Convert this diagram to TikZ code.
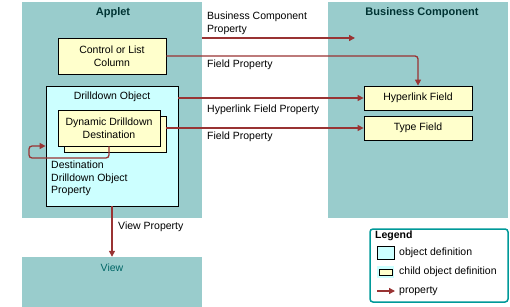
\documentclass[tikz,border=0pt]{standalone}
\usepackage{fontspec}
\setmainfont{Liberation Sans}
\usetikzlibrary{positioning,calc,arrows.meta}
\definecolor{panelteal}{HTML}{99CCCC}
\definecolor{objcyan}{HTML}{CCFFFF}
\definecolor{childyellow}{HTML}{FFFFCC}
\definecolor{propred}{HTML}{993333}
\definecolor{legendteal}{HTML}{009999}
\definecolor{titleink}{HTML}{003333}
\definecolor{viewink}{HTML}{006666}
\newcommand{\diagfont}{\fontsize{10.5}{12.5}\selectfont}

\begin{document}
\begin{tikzpicture}[x=1pt,y=-1pt,
    panel/.style={rectangle,fill=panelteal,inner sep=0pt},
    objbox/.style={rectangle,draw,line width=0.8pt,fill=objcyan,inner sep=0pt},
    childbox/.style={rectangle,draw,line width=0.8pt,fill=childyellow,inner sep=0pt,align=center,font=\diagfont},
    title/.style={font=\fontsize{11}{13}\selectfont\bfseries,text=titleink},
    lbl/.style={font=\diagfont,align=left,anchor=north west,inner sep=0pt},
    prop/.style={draw=propred,line width=1.3pt,-{Triangle[length=6pt,width=6pt]}}]

\useasboundingbox (0,0) rectangle (510,307);

% Panneaux
\node[panel,minimum width=180pt,minimum height=216pt] (applet) at (112,110) {};
\node[panel,minimum width=180pt,minimum height=216pt] (buscomp) at (418,110) {};
\node[panel,minimum width=180pt,minimum height=50pt] (view) at (112,282) {};
\node[title] (applettitle) at (113,13) {Applet};
\node[title] (bctitle) at (422,13) {Business Component};
\node[font=\diagfont,text=viewink] (viewtitle) at (112,268) {View};

% Objets de l'applet
\node[childbox,minimum width=108pt,minimum height=36pt] (ctrl) at (112,56) {Control or List\\Column};
\node[objbox,minimum width=132pt,minimum height=120pt] (drill) at (112,146) {};
\node[font=\diagfont] (drilltitle) at (112,97) {Drilldown Object};
\node[childbox,minimum width=102pt,minimum height=36pt] (dynback) at (115,134) {};
\node[childbox,minimum width=102pt,minimum height=36pt] (dyn) at (109,128) {Dynamic Drilldown\\Destination};
\node[lbl] (destlbl) at (51,161) {Destination\\Drilldown Object\\Property};

% Champs du business component
\node[childbox,minimum width=108pt,minimum height=24pt] (hyper) at (418,98) {Hyperlink Field};
\node[childbox,minimum width=108pt,minimum height=24pt] (type) at (418,128) {Type Field};

% Propriétés
\coordinate (bcend) at (355,38);
\draw[prop] (bcend -| applet.east) -- (bcend);
\node[lbl] (bclbl) at (207,12) {Business Component\\Property};

\draw[prop,rounded corners=3pt] (ctrl.east) -- (ctrl.east -| hyper.north) -- (hyper.north);
\node[lbl] (fieldlbl) at (207,60) {Field Property};

\draw[prop] (hyper.west -| drill.east) -- (hyper.west);
\node[lbl] (hyperlbl) at (207,105) {Hyperlink Field Property};

\draw[prop] (type.west -| dynback.east) -- (type.west);
\node[lbl] (typelbl) at (207,132) {Field Property};

\coordinate (loopcorner) at (29,158);
\draw[prop,rounded corners=3pt] (dyn.south) -- (dyn.south |- loopcorner) -- (loopcorner) -- (loopcorner |- drill.west) -- (drill.west);

\draw[prop] (drill.south) -- (view.north);
\node[lbl] (viewlbl) at (118,222) {View Property};

% Légende
\node[rectangle,draw=legendteal,line width=1.5pt,rounded corners=3pt,fill=white,minimum width=138pt,minimum height=73pt] (legend) at (439,265.5) {};
\node[font=\diagfont\bfseries,anchor=west,inner sep=0pt] (legendtitle) at (375,236) {Legend};
\node[objbox,minimum width=17pt,minimum height=13pt] (swobj) at (385.5,252.5) {};
\node[rectangle,fill=objcyan,minimum width=17pt,minimum height=12pt,inner sep=0pt] (swchildbg) at (385.5,272) {};
\node[childbox,minimum width=13pt,minimum height=6pt] (swchild) at (386,272.5) {};
\coordinate (swpropA) at (377,291);
\coordinate (swpropB) at (395,291);
\draw[prop] (swpropA) -- (swpropB);
\node[font=\diagfont,anchor=west,inner sep=0pt] (lgobj) at (399,253) {object definition};
\node[font=\diagfont,anchor=west,inner sep=0pt] (lgchild) at (399,272) {child object definition};
\node[font=\diagfont,anchor=west,inner sep=0pt] (lgprop) at (399,291) {property};

\end{tikzpicture}
\end{document}
